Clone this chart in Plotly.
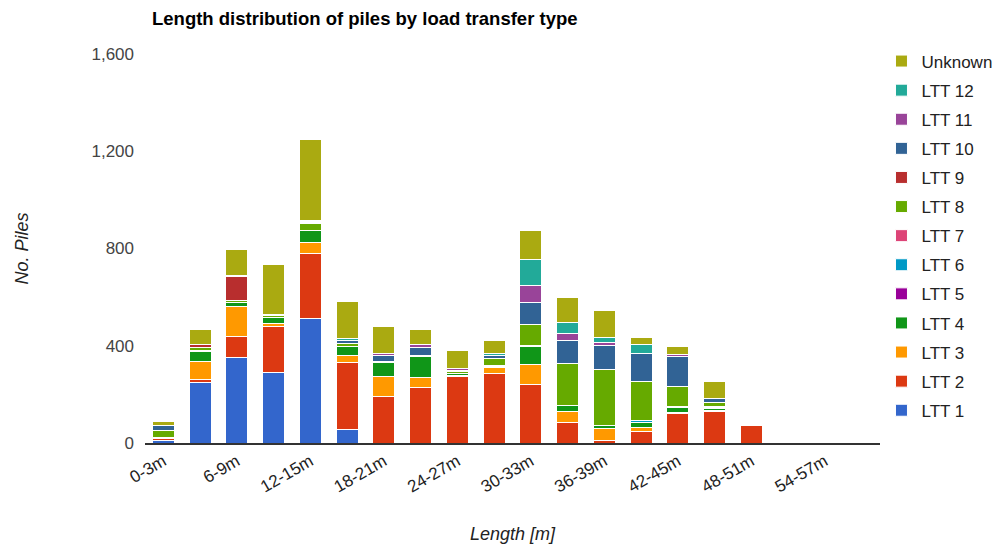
import plotly.graph_objects as go

# Length bins (3 m each)
categories = ["0-3m", "3-6m", "6-9m", "9-12m", "12-15m", "15-18m", "18-21m",
              "21-24m", "24-27m", "27-30m", "30-33m", "33-36m", "36-39m",
              "39-42m", "42-45m", "45-48m", "48-51m", "51-54m", "54-57m", "57-60m"]
tick_labels = ["0-3m", "6-9m", "12-15m", "18-21m", "24-27m", "30-33m",
               "36-39m", "42-45m", "48-51m", "54-57m"]

# No. of piles per load transfer type
ltt1 = [10, 248, 352, 290, 513, 55, 0, 0, 0, 0, 0, 0, 0, 0, 0, 0, 0, 0, 0, 0]
ltt2 = [8, 14, 87, 188, 268, 275, 193, 230, 272, 287, 240, 84, 10, 47, 120, 130, 72, 0, 0, 0]
ltt3 = [3, 72, 124, 14, 42, 28, 82, 40, 7, 24, 82, 45, 50, 18, 4, 3, 0, 0, 0, 0]
ltt4 = [2, 44, 16, 24, 53, 38, 56, 87, 6, 3, 76, 25, 14, 20, 22, 7, 0, 0, 0, 0]
ltt5 = [0, 0, 0, 0, 0, 0, 0, 0, 0, 0, 4, 0, 0, 0, 0, 0, 0, 0, 0, 0]
ltt6 = [0, 0, 0, 0, 0, 0, 0, 0, 0, 3, 0, 0, 0, 6, 6, 6, 0, 0, 0, 0]
ltt7 = [0, 4, 0, 0, 0, 0, 0, 0, 0, 0, 0, 0, 0, 0, 0, 3, 0, 0, 0, 0]
ltt8 = [28, 10, 8, 8, 26, 12, 3, 2, 9, 31, 87, 175, 228, 162, 80, 16, 3, 0, 0, 0]
ltt9 = [0, 12, 98, 0, 0, 0, 0, 0, 0, 0, 0, 0, 0, 0, 0, 0, 0, 0, 0, 0]
ltt10 = [20, 3, 6, 4, 6, 14, 26, 34, 5, 12, 87, 92, 98, 117, 122, 20, 4, 3, 0, 0]
ltt11 = [3, 0, 0, 0, 2, 0, 10, 11, 6, 0, 72, 29, 12, 0, 10, 0, 0, 0, 0, 0]
ltt12 = [0, 0, 0, 0, 4, 6, 0, 0, 0, 7, 108, 45, 20, 34, 0, 0, 0, 0, 0, 0]
unknown = [14, 58, 104, 206, 333, 155, 110, 64, 76, 54, 120, 103, 112, 32, 34, 68, 2, 0, 0, 0]

series = [
    ("LTT 1", ltt1, "#3366cc"),
    ("LTT 2", ltt2, "#dc3912"),
    ("LTT 3", ltt3, "#ff9900"),
    ("LTT 4", ltt4, "#109618"),
    ("LTT 5", ltt5, "#990099"),
    ("LTT 6", ltt6, "#0099c6"),
    ("LTT 7", ltt7, "#dd4477"),
    ("LTT 8", ltt8, "#66aa00"),
    ("LTT 9", ltt9, "#b82e2e"),
    ("LTT 10", ltt10, "#316395"),
    ("LTT 11", ltt11, "#994499"),
    ("LTT 12", ltt12, "#22aa99"),
    ("Unknown", unknown, "#aaaa11"),
]

font_family = "Arial, Liberation Sans, sans-serif"

fig = go.Figure()
for i, (name, values, color) in enumerate(series):
    fig.add_trace(go.Bar(
        x=categories,
        y=values,
        name=name,
        legendgroup=name,
        legendrank=1000 - i,  # top of stack first in the legend
        marker=dict(color=color, line=dict(color="white", width=1)),
    ))

# page body has an 8px margin, so the figure is drawn at (8, 8)
fig.update_layout(
    width=995,
    height=540,
    barmode="stack",
    bargap=0.4,
    plot_bgcolor="white",
    paper_bgcolor="white",
    font=dict(family=font_family, size=17, color="#222222"),
    margin=dict(l=137, r=123, t=46, b=105, autoexpand=False),
    title=dict(
        text="<b>Length distribution of piles by load transfer type</b>",
        font=dict(size=18.5, color="black"),
        xref="container", x=144 / 995, xanchor="left",
        yref="container", y=1 - 11 / 540, yanchor="middle",
        pad=dict(l=0, r=0, t=0, b=0),
    ),
    legend=dict(
        traceorder="grouped",
        tracegroupgap=4,
        font=dict(size=17, color="#222222"),
        x=1.002, xanchor="left",
        y=1.027, yanchor="top",
        maxheight=460,
    ),
    showlegend=True,
)

fig.update_xaxes(
    tickmode="array",
    tickvals=tick_labels,
    ticktext=tick_labels,
    tickangle=-30,
    tickfont=dict(size=17, color="#222222"),
    showline=True,
    linecolor="#333333",
    linewidth=2,
    showgrid=False,
    title=dict(text="<i>Length [m]</i>", font=dict(size=18, color="#222222"), standoff=32),
)

fig.update_yaxes(
    range=[0, 1600],
    tickvals=[0, 400, 800, 1200, 1600],
    tickformat=",",
    tickfont=dict(size=17, color="#444444"),
    ticklabelstandoff=10,
    showgrid=False,
    zeroline=False,
    title=dict(text="<i>No. Piles</i>", font=dict(size=18, color="#222222"), standoff=58),
)

fig.write_html("out.html")
